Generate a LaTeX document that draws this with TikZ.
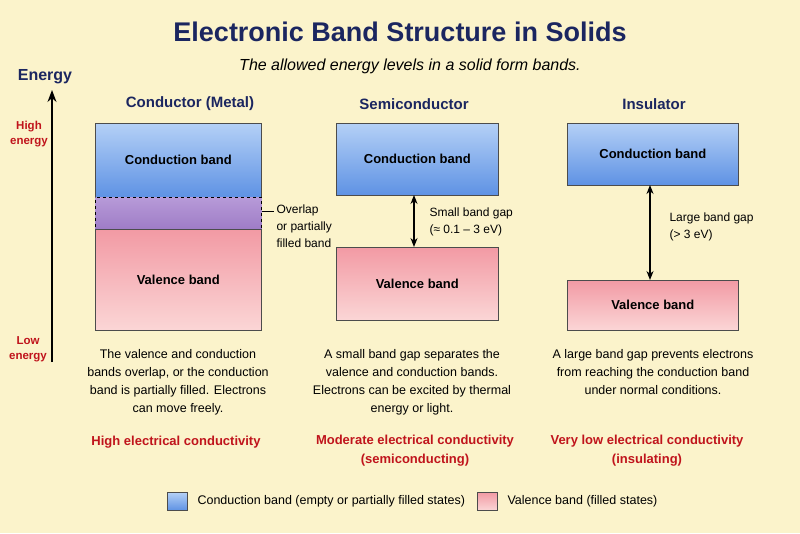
\documentclass[tikz,border=0pt]{standalone}
\usepackage{fontspec}
\setmainfont{Liberation Sans}
\usetikzlibrary{arrows.meta}
\definecolor{bg}{HTML}{FBF3CB}
\definecolor{navy}{HTML}{1B2660}
\definecolor{dred}{HTML}{C0141C}
\definecolor{cbt}{HTML}{B4D0F6}
\definecolor{cbb}{HTML}{5E92E4}
\definecolor{vbt}{HTML}{F29AA4}
\definecolor{vbb}{HTML}{FBD6D6}
\definecolor{ovt}{HTML}{B79AD8}
\definecolor{ovb}{HTML}{9E7CC6}
\tikzset{
  cband/.style={draw=black!70,line width=0.6pt,top color=cbt,bottom color=cbb},
  vband/.style={draw=black!70,line width=0.6pt,top color=vbt,bottom color=vbb},
  blabel/.style={font=\fontsize{13}{15}\selectfont\bfseries},
  head/.style={font=\fontsize{15}{18}\selectfont\bfseries,text=navy},
  desc/.style={align=center,font=\fontsize{12.5}{18}\selectfont},
  cond/.style={align=center,text=dred,font=\fontsize{13}{19}\selectfont\bfseries},
  side/.style={align=left,anchor=west,font=\fontsize{12}{17}\selectfont},
  garrow/.style={{Stealth[length=9pt,width=7pt]}-{Stealth[length=9pt,width=7pt]},line width=1.3pt}
}
\begin{document}
\begin{tikzpicture}[x=1pt,y=-1pt]
\fill[bg] (0,0) rectangle (800,533);
\useasboundingbox (0,0) rectangle (800,533);
\node[font=\fontsize{27}{30}\selectfont\bfseries,text=navy] (title) at (400,32) {Electronic Band Structure in Solids};
\node[font=\fontsize{16}{19}\selectfont\itshape] (sub) at (410,66) {The allowed energy levels in a solid form bands.};
% energy axis
\node[font=\fontsize{16}{19}\selectfont\bfseries,text=navy] (en) at (45,77) {Energy};
\coordinate (ab) at (52,362); \coordinate (at) at (52,90);
\draw[-{Stealth[length=12pt,width=9pt]},line width=1.5pt] (ab) -- (at);
\node[align=center,text=dred,font=\fontsize{11.5}{15}\selectfont\bfseries] (hi) at (29,134) {High\\energy};
\node[align=center,text=dred,font=\fontsize{11.5}{15}\selectfont\bfseries] (lo) at (28,349) {Low\\energy};
% conductor
\node[head] (h1) at (190,104) {Conductor (Metal)};
\node[cband,minimum width=166,minimum height=74,anchor=north west,label={[blabel]center:Conduction band}] (c1) at (95,123) {};
\node[draw=black,dashed,line width=1pt,top color=ovt,bottom color=ovb,minimum width=166,minimum height=32,anchor=north west] (o1) at (95,197) {};
\node[vband,minimum width=166,minimum height=101,anchor=north west,label={[blabel]center:Valence band}] (v1) at (95,229) {};
\node[side] (ol) at (273,226) {Overlap\\or partially\\filled band};
\coordinate (olp) at (274,211);
\draw[line width=0.8pt] (o1.east |- olp) -- (olp);
% semiconductor
\node[head] (h2) at (414,104) {Semiconductor};
\node[cband,minimum width=162,minimum height=72,anchor=north west,label={[blabel]center:Conduction band}] (c2) at (336,123) {};
\node[vband,minimum width=162,minimum height=73,anchor=north west,label={[blabel]center:Valence band}] (v2) at (336,247) {};
\coordinate (g2a) at (414,195); \coordinate (g2b) at (414,247);
\draw[garrow] (g2a) -- (g2b);
\node[side] (gl2) at (426,222) {Small band gap\\(≈ 0.1 – 3 eV)};
% insulator
\node[head] (h3) at (654,104) {Insulator};
\node[cband,minimum width=171,minimum height=62,anchor=north west,label={[blabel]center:Conduction band}] (c3) at (567,123) {};
\node[vband,minimum width=171,minimum height=50,anchor=north west,label={[blabel]center:Valence band}] (v3) at (567,280) {};
\coordinate (g3a) at (650,185); \coordinate (g3b) at (650,280);
\draw[garrow] (g3a) -- (g3b);
\node[side] (gl3) at (666,227) {Large band gap\\(> 3 eV)};
% descriptions
\node[desc,anchor=north] (d1) at (178,346) {The valence and conduction\\bands overlap, or the conduction\\band is partially filled. Electrons\\can move freely.};
\node[desc,anchor=north] (d2) at (412,346) {A small band gap separates the\\valence and conduction bands.\\Electrons can be excited by thermal\\energy or light.};
\node[desc,anchor=north] (d3) at (653,346) {A large band gap prevents electrons\\from reaching the conduction band\\under normal conditions.};
\node[cond] (k1) at (176,442) {High electrical conductivity};
\node[cond] (k2) at (415,451) {Moderate electrical conductivity\\(semiconducting)};
\node[cond] (k3) at (647,451) {Very low electrical conductivity\\(insulating)};
% legend
\node[cband,minimum width=20,minimum height=18,anchor=north west] (lg1) at (167,492) {};
\node[anchor=west,font=\fontsize{12.5}{15}\selectfont] (lt1) at (194,501) {Conduction band (empty or partially filled states)};
\node[vband,minimum width=20,minimum height=18,anchor=north west] (lg2) at (477,492) {};
\node[anchor=west,font=\fontsize{12.5}{15}\selectfont] (lt2) at (504,501) {Valence band (filled states)};
\end{tikzpicture}
\end{document}
